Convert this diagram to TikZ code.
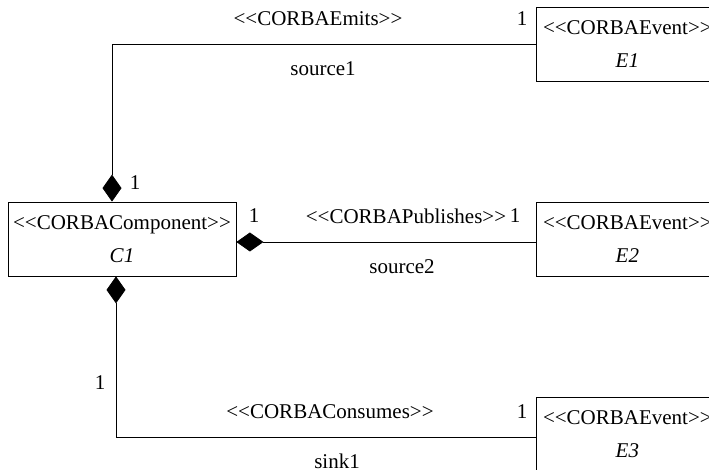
\documentclass[tikz,border=0pt]{standalone}
\usepackage{fontspec}
\newfontfamily\umlfont{Liberation Serif}
\usetikzlibrary{arrows.meta}
\tikzset{
    classbox/.style={draw, line width=0.8pt, minimum width=228pt, minimum height=74pt,
        align=center, inner sep=0pt},
    eventbox/.style={classbox, minimum width=182pt, anchor=north west},
    assoc/.style={draw, line width=0.8pt},
    compos/.style={assoc, {Diamond[length=27pt,width=19pt]}-},
    lbl/.style={inner sep=0pt},
}
\begin{document}
\begin{tikzpicture}[x=1pt,y=-1pt,font=\umlfont\fontsize{21}{33}\selectfont]
\useasboundingbox (0,0) rectangle (709,470);
\clip (0,0) rectangle (709,470);
% classes
\node[classbox] (c1) at (122,239) {<<CORBAComponent>>\\\textit{C1}};
\node[eventbox] (e1) at (536,7) {<<CORBAEvent>>\\\textit{E1}};
\node[eventbox] (e2) at (536,202) {<<CORBAEvent>>\\\textit{E2}};
\node[eventbox] (e3) at (536,397) {<<CORBAEvent>>\\\textit{E3}};
% compositions
\draw[compos] ([xshift=-10pt]c1.north) |- (e1.west);
\draw[compos] ([yshift=-3pt]c1.east) -- ([yshift=-3pt]c1.east -| e2.west);
\draw[compos] ([xshift=-6pt]c1.south) |- ([yshift=-3pt]e3.west);
% labels
\node[lbl] (m1a) at (135,183) {1};
\node[lbl] (s1) at (318,19) {<<CORBAEmits>>};
\node[lbl] (m1b) at (522,19) {1};
\node[lbl] (r1) at (323,69) {source1};
\node[lbl] (m2a) at (254,216) {1};
\node[lbl] (s2) at (406,216) {<<CORBAPublishes>>};
\node[lbl] (m2b) at (515,216) {1};
\node[lbl] (r2) at (402,267) {source2};
\node[lbl] (m3a) at (100,383) {1};
\node[lbl] (s3) at (330,412) {<<CORBAConsumes>>};
\node[lbl] (m3b) at (522,412) {1};
\node[lbl] (r3) at (337,461) {sink1};
\end{tikzpicture}
\end{document}
